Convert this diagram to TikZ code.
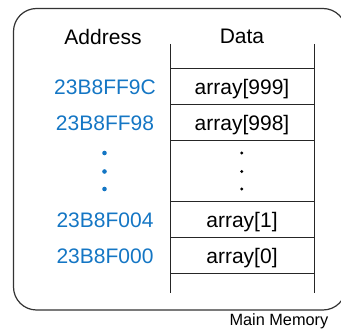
\documentclass[tikz,border=0pt]{standalone}
\usepackage{fontspec}
\setmainfont{Liberation Sans}
\definecolor{addrblue}{RGB}{20,118,196}
\definecolor{framegray}{RGB}{51,51,51}
\begin{document}
\begin{tikzpicture}[x=1pt,y=-1pt,
  cell/.style={anchor=base,inner sep=0pt,font=\fontsize{21}{25}\selectfont},
  addr/.style={cell,text=addrblue},
  grid/.style={line width=1pt,black!85},
  bdot/.style={circle,fill=addrblue,inner sep=0pt,minimum size=4.6pt},
  kdot/.style={circle,fill=black,inner sep=0pt,minimum size=3.2pt}]
\useasboundingbox (0,0) rectangle (341,329);
% memory outline
\draw[line width=1.2pt,framegray,rounded corners=23pt] (13.5,8.5) rectangle (346,310);
% column headings
\node[cell] (haddr) at (103,45) {Address};
\node[cell] (hdata) at (242,43.5) {Data};
% data column
\draw[grid] (170,44) -- (170,293);
\draw[grid] (314,44) -- (314,293);
\foreach \y in {69,105,141,202,238,274}
  \draw[grid] (170,\y) -- (314,\y);
% rows
\node[addr] (a999) at (105,94.5) {23B8FF9C};
\node[cell] (d999) at (242,94.5) {array[999]};
\node[addr] (a998) at (105,130.5) {23B8FF98};
\node[cell] (d998) at (242,130.5) {array[998]};
\node[addr] (a1) at (105,227.5) {23B8F004};
\node[cell] (d1) at (242,227.5) {array[1]};
\node[addr] (a0) at (105,263.5) {23B8F000};
\node[cell] (d0) at (242,263.5) {array[0]};
% ellipsis dots
\foreach \y/\n in {153/1,171.5/2,189/3} {
  \node[bdot] (ad\n) at (104.5,\y) {};
  \node[kdot] (dd\n) at (241.7,\y) {};
}
% caption
\node[anchor=base east,inner sep=0pt,font=\fontsize{16.3}{19}\selectfont] (cap) at (328.5,326) {Main Memory};
\end{tikzpicture}
\end{document}
